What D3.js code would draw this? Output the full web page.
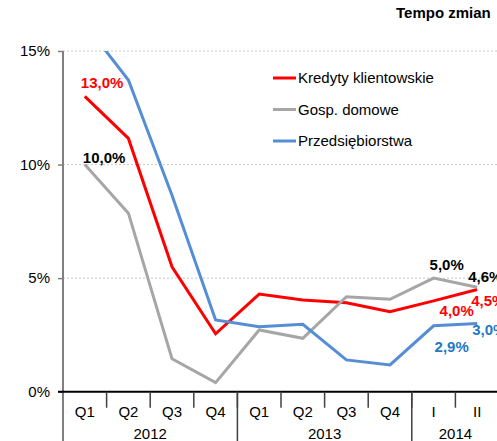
<!DOCTYPE html>
<html>
<head>
<meta charset="utf-8">
<script src="https://cdn.jsdelivr.net/npm/d3@7"></script>
<style>
  body { margin: 0; background: #fff; }
  svg { font-family: "Liberation Sans", Arial, sans-serif; display: block; }
</style>
</head>
<body>
<div id="container"></div>
<script>
/** DATA */
const quarters = ["Q1", "Q2", "Q3", "Q4", "Q1", "Q2", "Q3", "Q4", "I", "II"];
const years = ["2012", "2013", "2014"];
const yearSpans = [4, 4, 2];
const yTicks = [0, 5, 10, 15];

const kredyty = [13.0, 11.15, 5.5, 2.55, 4.3, 4.04, 3.92, 3.52, 4.0, 4.5];
const gospDomowe = [10.0, 7.86, 1.45, 0.4, 2.72, 2.35, 4.18, 4.07, 5.0, 4.6];
const przedsiebiorstwa = [16.2, 13.72, 8.65, 3.16, 2.86, 2.97, 1.4, 1.18, 2.9, 3.0];

const seriesNames = ["Kredyty klientowskie", "Gosp. domowe", "Przedsiębiorstwa"];

/** CONSTANTS */
const width = 497, height = 441;
const margin = { top: 51, left: 63, bottom: 50 };
const plotBottom = 391.7;
const bandW = 43.6;

const colors = {
  red: "#ff0000",
  gray: "#a6a6a6",
  blue: "#558ed5",
  blueText: "#2479c4"
};

const series = [
  { name: seriesNames[0], values: kredyty, color: colors.red },
  { name: seriesNames[1], values: gospDomowe, color: colors.gray },
  { name: seriesNames[2], values: przedsiebiorstwa, color: colors.blue }
];

// value labels: which series, which point, and where to put the text
const labels = [
  { s: 0, i: 0, text: "13,0%", fill: colors.red, dx: -4, dy: -8 },
  { s: 1, i: 0, text: "10,0%", fill: "#000", dx: -2, dy: -2 },
  { s: 1, i: 8, text: "5,0%", fill: "#000", dx: -4, dy: -8 },
  { s: 1, i: 9, text: "4,6%", fill: "#000", dx: -9, dy: -5 },
  { s: 0, i: 8, text: "4,0%", fill: colors.red, dx: 6, dy: 15 },
  { s: 0, i: 9, text: "4,5%", fill: colors.red, dx: -6, dy: 17 },
  { s: 2, i: 8, text: "2,9%", fill: colors.blueText, dx: 1, dy: 26 },
  { s: 2, i: 9, text: "3,0%", fill: colors.blueText, dx: -5, dy: 11 }
];

const svg = d3.select("#container")
  .append("svg")
  .attr("width", width)
  .attr("height", height);

const idx = d3.range(quarters.length);

const x = d3.scaleBand()
  .domain(idx)
  .range([margin.left, margin.left + bandW * quarters.length])
  .paddingInner(0).paddingOuter(0);

const y = d3.scaleLinear()
  .domain([0, 15])
  .range([plotBottom, margin.top]);

const xc = i => x(i) + x.bandwidth() / 2;

// clip for lines above 15%
svg.append("clipPath").attr("id", "plot")
  .append("rect")
  .attr("x", margin.left)
  .attr("y", y(15))
  .attr("width", width - margin.left)
  .attr("height", plotBottom - y(15));

// title (cut at right edge like the original)
svg.append("text")
  .attr("x", 396)
  .attr("y", 18)
  .attr("font-size", 15)
  .attr("font-weight", "bold")
  .text("Tempo zmian");

// gridlines
svg.selectAll(".grid")
  .data(yTicks.filter(d => d > 0))
  .join("line")
  .attr("class", "grid")
  .attr("x1", margin.left).attr("x2", width)
  .attr("y1", d => y(d)).attr("y2", d => y(d))
  .attr("stroke", "#c8c8c8")
  .attr("stroke-dasharray", "2,2");

// y axis
const yAxis = svg.append("g")
  .attr("transform", `translate(${margin.left},0)`)
  .call(d3.axisLeft(y).tickValues(yTicks).tickSize(5).tickPadding(8).tickFormat(d => d + "%"));
yAxis.select(".domain").remove();
yAxis.selectAll(".tick line").attr("stroke", "#808080").attr("stroke-width", 1.5);
yAxis.selectAll(".tick text")
  .attr("font-size", 15)
  .attr("fill", "#000")
  .attr("font-family", "Liberation Sans, Arial, sans-serif");

svg.append("line")
  .attr("x1", margin.left).attr("x2", margin.left)
  .attr("y1", y(15)).attr("y2", height)
  .attr("stroke", "#808080").attr("stroke-width", 2);

// lines
const line = d3.line()
  .x((d, i) => xc(i))
  .y(d => y(d));

svg.append("g")
  .attr("clip-path", "url(#plot)")
  .selectAll(".series")
  .data(series)
  .join("path")
  .attr("class", "series")
  .attr("fill", "none")
  .attr("stroke", d => d.color)
  .attr("stroke-width", 3)
  .attr("stroke-linejoin", "miter")
  .attr("d", d => line(d.values));

// x axis baseline
svg.append("line")
  .attr("x1", margin.left - 5).attr("x2", width)
  .attr("y1", plotBottom).attr("y2", plotBottom)
  .attr("stroke", "#000").attr("stroke-width", 2);

// quarter separators
svg.selectAll(".qsep")
  .data(idx.slice(1))
  .join("line")
  .attr("class", "qsep")
  .attr("x1", d => x(d)).attr("x2", d => x(d))
  .attr("y1", plotBottom).attr("y2", plotBottom + 16)
  .attr("stroke", "#404040").attr("stroke-width", 1.5);

// year separators
const yearStarts = yearSpans.map((n, k) => d3.sum(yearSpans.slice(0, k)));
svg.selectAll(".ysep")
  .data(yearStarts.slice(1))
  .join("line")
  .attr("class", "ysep")
  .attr("x1", d => x(d)).attr("x2", d => x(d))
  .attr("y1", plotBottom).attr("y2", height)
  .attr("stroke", "#404040").attr("stroke-width", 1.5);

// quarter labels
svg.selectAll(".qlab")
  .data(quarters)
  .join("text")
  .attr("class", "qlab")
  .attr("x", (d, i) => xc(i))
  .attr("y", plotBottom + 25)
  .attr("text-anchor", "middle")
  .attr("font-size", 15)
  .text(d => d);

// year labels
svg.selectAll(".ylab")
  .data(years)
  .join("text")
  .attr("class", "ylab")
  .attr("x", (d, k) => x(yearStarts[k]) + yearSpans[k] * bandW / 2)
  .attr("y", plotBottom + 47)
  .attr("text-anchor", "middle")
  .attr("font-size", 15)
  .text(d => d);

// value labels
svg.selectAll(".vlab")
  .data(labels)
  .join("text")
  .attr("class", "vlab")
  .attr("x", d => xc(d.i) + d.dx)
  .attr("y", d => y(series[d.s].values[d.i]) + d.dy)
  .attr("font-size", 15)
  .attr("font-weight", "bold")
  .attr("fill", d => d.fill)
  .text(d => d.text);

// legend
const legend = svg.selectAll(".legend")
  .data(series)
  .join("g")
  .attr("class", "legend")
  .attr("transform", (d, i) => `translate(273, ${78 + i * 31.5})`);

legend.append("line")
  .attr("x1", 0).attr("x2", 23)
  .attr("stroke", d => d.color)
  .attr("stroke-width", 3);

legend.append("text")
  .attr("x", 25)
  .attr("dy", "0.35em")
  .attr("font-size", 15)
  .text(d => d.name);
</script>
</body>
</html>
